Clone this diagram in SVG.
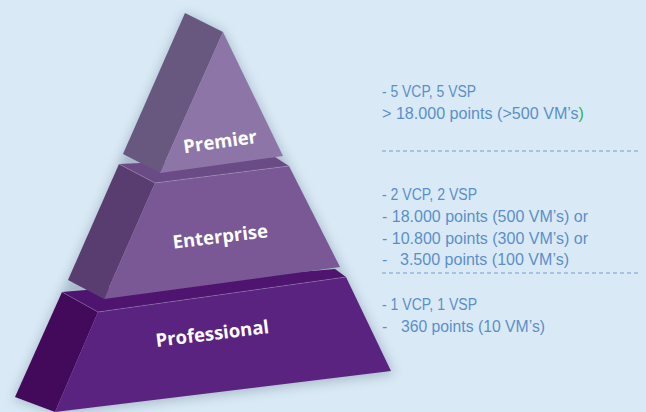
<svg xmlns="http://www.w3.org/2000/svg" width="646" height="412" viewBox="0 0 646 412">
<defs>
<filter id="sh" x="-20%" y="-20%" width="140%" height="140%"><feGaussianBlur stdDeviation="6"/></filter>
<style>
.lbl{font-family:"Open Sans","Liberation Sans",sans-serif;font-weight:700;font-size:18.5px;fill:#ffffff;text-anchor:middle}
.info{font-family:"Liberation Sans",Arial,sans-serif;font-size:16px;fill:#5b8fca}
.dash{stroke:#6f9fd4;stroke-width:1;stroke-dasharray:4 3;fill:none}
.edge{stroke:#ffffff;stroke-opacity:0.25;stroke-width:0.8;fill:none}
</style>
</defs>
<rect width="646" height="412" fill="#d9eaf6"/>
<g id="shadow" filter="url(#sh)" fill="#6a7f90" opacity="0.45">
<polygon points="185,13 223,32 283,156 289,166 346,277 394,374 58,414 14,399 62,292 68,280 119,164 123,154"/>
</g>
<g id="professional">
<polygon points="62,292 335,269 346,277 98,312" fill="#4e1470"/>
<polygon points="62,292 98,312 55,412 15,397" fill="#430a5c"/>
<polygon points="98,312 346,277 391,371 55,412" fill="#5b2380"/>
<polyline class="edge" points="62,292 98,312 346,277"/>
<text class="lbl" transform="translate(213,340) rotate(-7)">Professional</text>
</g>
<g id="enterprise">
<polygon points="119,164 275,157 289,166 155,183" fill="#6b4b86"/>
<polygon points="119,164 155,183 104,299 68,280" fill="#5a3d70"/>
<polygon points="155,183 289,166 340,267 104,299" fill="#7a5795"/>
<polyline class="edge" points="119,164 155,183 289,166"/>
<text class="lbl" transform="translate(221,243) rotate(-7)">Enterprise</text>
</g>
<g id="premier">
<polygon points="185,13 223,32 160,173 123,154" fill="#68577f"/>
<polygon points="223,32 283,156 160,173" fill="#8d76a7"/>
<text class="lbl" transform="translate(221,148) rotate(-8)">Premier</text>
</g>
<g id="connectors">
<line class="dash" x1="382" y1="151" x2="640" y2="151"/>
<line class="dash" x1="382" y1="273" x2="640" y2="273"/>
</g>
<g id="info-premier">
<text class="info" x="382" y="97" textLength="94" lengthAdjust="spacingAndGlyphs">- 5 VCP, 5 VSP</text>
<text class="info" x="382" y="119" textLength="202" lengthAdjust="spacingAndGlyphs">&gt; 18.000 points (&gt;500 VM’s<tspan fill="#2db34a">)</tspan></text>
</g>
<g id="info-enterprise">
<text class="info" x="382" y="200" textLength="95" lengthAdjust="spacingAndGlyphs">- 2 VCP, 2 VSP</text>
<text class="info" x="382" y="222" textLength="206" lengthAdjust="spacingAndGlyphs">- 18.000 points (500 VM’s) or</text>
<text class="info" x="382" y="244" textLength="206" lengthAdjust="spacingAndGlyphs">- 10.800 points (300 VM’s) or</text>
<text class="info" x="382" y="265">-</text>
<text class="info" x="400" y="265" textLength="169" lengthAdjust="spacingAndGlyphs">3.500 points (100 VM’s)</text>
</g>
<g id="info-professional">
<text class="info" x="382" y="310" textLength="95" lengthAdjust="spacingAndGlyphs">- 1 VCP, 1 VSP</text>
<text class="info" x="382" y="332">-</text>
<text class="info" x="401" y="332" textLength="144" lengthAdjust="spacingAndGlyphs">360 points (10 VM’s)</text>
</g>
</svg>
